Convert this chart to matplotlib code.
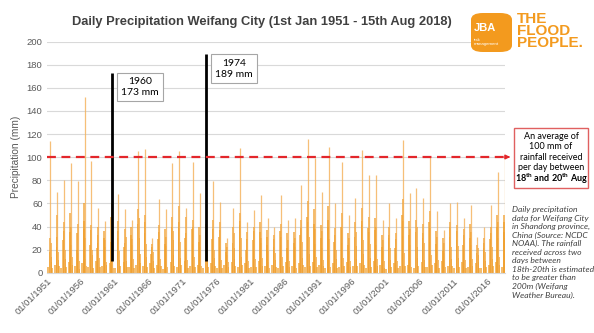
import numpy as np
import pandas as pd
import matplotlib
matplotlib.use("Agg")
import matplotlib.pyplot as plt
import matplotlib.dates as mdates
from matplotlib.patches import FancyBboxPatch, Rectangle

plt.rcParams["font.family"] = ["Liberation Sans", "DejaVu Sans"]
plt.rcParams["mathtext.fontset"] = "custom"
plt.rcParams["mathtext.bf"] = "Lato:bold"
plt.rcParams["mathtext.rm"] = "Lato"

years = list(range(1951, 2019))

# annual wettest day (day of year, mm)
peak_doy = [200, 195, 210, 205, 215, 220, 198, 206, 202, 214,
            199, 212, 207, 196, 203, 218, 190, 208, 201, 197,
            211, 216, 204, 209, 199, 206, 213, 202, 194, 210,
            200, 205, 212, 197, 203, 208, 215, 201, 196, 207,
            211, 217, 200, 204, 209, 198, 213, 206, 219, 202,
            197, 195, 208, 214, 193, 205, 210, 199, 203, 196,
            212, 207, 201, 204, 209, 215, 198, 222]
peak_mm = [114, 70, 80, 95, 79, 152, 97, 56, 45, 84,
           68, 55, 46, 105, 107, 30, 64, 55, 95, 105,
           56, 96, 69, 65, 79, 61, 30, 56, 108, 44,
           54, 67, 47, 40, 67, 46, 47, 76, 116, 99,
           70, 109, 60, 96, 50, 65, 106, 85, 85, 46,
           60, 47, 115, 69, 73, 65, 100, 53, 37, 60,
           61, 47, 59, 31, 40, 59, 87, 104]

# other rain days in each year (day of year, mm)
other_doy = [
    [60, 168, 186, 214, 230, 255, 296], [95, 172, 190, 205, 226, 248, 288],
    [40, 165, 182, 210, 233, 252, 305], [110, 170, 188, 208, 229, 246, 290],
    [70, 160, 195, 213, 224, 258, 300], [85, 175, 190, 206, 232, 250, 285],
    [50, 168, 180, 212, 228, 249, 310], [120, 166, 192, 207, 225, 256, 292],
    [75, 170, 183, 216, 234, 250, 298], [100, 162, 189, 210, 227, 246, 303],
    [45, 174, 186, 209, 222, 251, 287], [130, 167, 193, 214, 236, 254, 295],
    [65, 171, 184, 203, 231, 248, 301], [90, 163, 191, 211, 226, 257, 289],
    [55, 169, 187, 205, 230, 252, 306], [115, 165, 182, 213, 228, 249, 293],
    [80, 173, 194, 208, 235, 255, 299], [35, 166, 188, 212, 224, 247, 291],
    [105, 170, 181, 207, 229, 253, 304], [60, 164, 190, 215, 233, 250, 288],
    [125, 172, 185, 206, 221, 256, 297], [70, 168, 193, 210, 231, 249, 302],
    [95, 161, 180, 204, 226, 252, 290], [50, 175, 189, 214, 234, 258, 296],
    [110, 167, 184, 209, 225, 248, 307], [40, 170, 192, 212, 232, 254, 292],
    [85, 163, 187, 205, 228, 250, 300], [120, 174, 183, 211, 236, 257, 289],
    [65, 169, 190, 207, 223, 251, 303], [100, 165, 186, 213, 230, 249, 295],
    [55, 171, 194, 208, 227, 253, 298], [130, 167, 181, 210, 235, 256, 286],
    [75, 162, 189, 206, 224, 247, 305], [90, 173, 185, 215, 232, 252, 293],
    [45, 168, 192, 209, 229, 250, 301], [115, 166, 184, 204, 226, 254, 290],
    [70, 170, 188, 212, 233, 248, 297], [105, 164, 191, 207, 221, 257, 304],
    [60, 172, 183, 211, 230, 251, 288], [125, 169, 187, 205, 228, 249, 296],
    [80, 163, 194, 214, 234, 255, 302], [40, 175, 185, 208, 225, 252, 291],
    [95, 167, 190, 213, 231, 247, 299], [55, 171, 182, 209, 227, 256, 294],
    [110, 165, 188, 206, 236, 250, 287], [65, 168, 193, 212, 224, 253, 305],
    [100, 174, 186, 207, 229, 248, 292], [50, 162, 191, 210, 233, 254, 300],
    [120, 170, 184, 215, 226, 251, 289], [85, 166, 189, 204, 232, 257, 297],
    [35, 173, 183, 211, 228, 249, 303], [105, 167, 192, 208, 222, 252, 295],
    [70, 169, 186, 213, 234, 255, 290], [90, 164, 190, 206, 230, 247, 298],
    [45, 172, 181, 210, 227, 253, 306], [115, 168, 188, 214, 231, 250, 293],
    [60, 171, 194, 205, 225, 256, 288], [95, 163, 185, 212, 233, 249, 301],
    [130, 170, 187, 209, 224, 252, 296], [75, 166, 191, 207, 229, 254, 290],
    [50, 174, 183, 213, 235, 248, 304], [110, 165, 189, 206, 226, 251, 292],
    [65, 169, 192, 211, 232, 257, 299], [100, 172, 184, 208, 228, 250, 287],
    [40, 167, 190, 214, 223, 253, 302], [85, 164, 186, 209, 231, 249, 295],
    [120, 170, 183, 205, 227, 255, 291], [55, 160, 175, 190, 200, 210, 218],
]
other_mm = [
    [5, 18, 30, 26, 14, 9, 4], [7, 22, 50, 31, 18, 11, 6],
    [4, 28, 44, 36, 20, 12, 5], [9, 35, 52, 40, 24, 14, 7],
    [6, 20, 34, 42, 17, 10, 3], [8, 38, 60, 45, 30, 12, 6],
    [5, 24, 41, 37, 20, 15, 4], [10, 21, 33, 40, 26, 13, 5],
    [6, 30, 36, 28, 22, 9, 7], [8, 27, 48, 60, 35, 18, 4],
    [4, 36, 45, 30, 19, 11, 6], [9, 22, 38, 26, 31, 10, 5],
    [5, 33, 40, 29, 24, 12, 4], [7, 42, 55, 47, 30, 16, 8],
    [6, 34, 50, 44, 25, 14, 5], [8, 16, 25, 22, 18, 10, 4],
    [7, 29, 41, 35, 20, 12, 6], [3, 25, 38, 31, 23, 9, 5],
    [9, 40, 48, 36, 28, 15, 6], [5, 44, 58, 39, 27, 13, 7],
    [10, 30, 48, 34, 21, 11, 4], [6, 38, 46, 40, 25, 14, 5],
    [7, 27, 40, 33, 22, 10, 6], [4, 35, 42, 28, 24, 12, 5],
    [8, 29, 46, 38, 20, 13, 6], [4, 31, 37, 44, 22, 11, 4],
    [7, 18, 26, 22, 15, 9, 5], [9, 26, 40, 34, 21, 12, 6],
    [5, 45, 52, 41, 30, 14, 7], [8, 20, 35, 29, 18, 10, 4],
    [5, 28, 36, 40, 20, 12, 5], [10, 35, 44, 30, 26, 13, 6],
    [6, 24, 31, 37, 19, 9, 4], [7, 22, 29, 33, 17, 11, 5],
    [4, 36, 42, 31, 24, 14, 6], [9, 21, 34, 28, 20, 10, 5],
    [6, 26, 35, 30, 22, 12, 4], [8, 33, 46, 39, 27, 13, 7],
    [5, 48, 62, 44, 31, 16, 6], [9, 42, 55, 38, 25, 14, 5],
    [7, 30, 41, 36, 21, 11, 6], [4, 46, 58, 40, 29, 15, 5],
    [8, 27, 39, 33, 20, 12, 4], [5, 40, 52, 37, 26, 13, 6],
    [9, 24, 34, 30, 19, 10, 5], [6, 31, 44, 35, 23, 12, 6],
    [8, 45, 56, 41, 28, 16, 7], [4, 39, 48, 35, 25, 13, 5],
    [10, 37, 47, 40, 24, 12, 6], [7, 22, 33, 28, 19, 10, 4],
    [3, 30, 40, 33, 21, 11, 5], [8, 21, 34, 29, 17, 10, 4],
    [6, 50, 64, 45, 32, 17, 6], [7, 33, 45, 38, 24, 12, 5],
    [4, 35, 46, 40, 22, 13, 6], [9, 30, 42, 34, 26, 11, 5],
    [5, 44, 53, 39, 27, 15, 7], [8, 25, 36, 31, 20, 11, 4],
    [10, 19, 30, 26, 17, 10, 5], [6, 31, 40, 44, 22, 12, 6],
    [4, 28, 41, 36, 23, 13, 5], [9, 24, 33, 38, 20, 11, 4],
    [5, 30, 42, 35, 24, 12, 6], [8, 17, 24, 21, 15, 9, 4],
    [4, 21, 30, 26, 18, 10, 5], [7, 29, 40, 34, 22, 12, 6],
    [9, 40, 50, 44, 30, 14, 7], [5, 35, 44, 50, 30, 22, 12],
]

# highlighted events
event_dates = ["1960-08-12", "1974-07-16"]
event_mm = [173, 189]
event_labels = ["1960\n173 mm", "1974\n189 mm"]

start, end = pd.Timestamp("1951-01-01"), pd.Timestamp("2018-08-15")
tick_years = list(range(1951, 2017, 5))


def to_date(y, doy):
    return pd.Timestamp(year=y, month=1, day=1) + pd.Timedelta(days=doy - 1)


peak_dates = [to_date(y, d) for y, d in zip(years, peak_doy)]
other_dates, other_vals = [], []
for y, od, om in zip(years, other_doy, other_mm):
    for d, m in zip(od, om):
        other_dates.append(to_date(y, d))
        other_vals.append(m)

fig = plt.figure(figsize=(5.94, 3.33), dpi=100)
ax = fig.add_axes([0.0786, 0.181, 0.7716, 0.694])

ax.vlines(other_dates, 0, other_vals, color="#F0A02E", lw=1.4, alpha=0.7, zorder=2)
ax.vlines(peak_dates, 0, peak_mm, color="#F4B056", lw=0.9, alpha=0.8, zorder=2)
ax.vlines(pd.to_datetime(event_dates), 10, event_mm, color="black", lw=2, zorder=4)
ax.axhline(100, color="#E3262B", lw=1.6, ls=(0, (4, 2.5)), zorder=5)

ax.set_xlim(start, end)
ax.set_ylim(0, 200)
ax.set_yticks(range(0, 201, 20))
ax.set_xticks([pd.Timestamp(year=y, month=1, day=1) for y in tick_years])
ax.xaxis.set_major_formatter(mdates.DateFormatter("%d/%m/%Y"))
ax.grid(axis="y", color="#D9D9D9", lw=0.8, zorder=0)
ax.set_axisbelow(True)
for s in ["top", "right", "left"]:
    ax.spines[s].set_visible(False)
ax.spines["bottom"].set_color("#D9D9D9")
ax.tick_params(axis="both", length=0, labelsize=6.8, colors="#595959", pad=3)
plt.setp(ax.get_xticklabels(), rotation=45, ha="right", rotation_mode="anchor")
ax.set_ylabel("Precipitation (mm)", fontsize=7.3, color="#595959", labelpad=4)

fig.text(0.441, 0.934, "Daily Precipitation Weifang City (1st Jan 1951 - 15th Aug 2018)",
         ha="center", va="center", fontsize=9.3, fontweight="bold", color="#404040")

# event labels
box_font = ["Lato", "DejaVu Sans"]
for d, m, lab in zip(event_dates, event_mm, event_labels):
    ax.annotate(lab, xy=(pd.Timestamp(d), m), xytext=(20, -3), textcoords="offset points",
                ha="center", va="top", multialignment="center", fontsize=7.5,
                family=box_font, linespacing=1.3,
                bbox=dict(boxstyle="square,pad=0.4", fc="white", ec="#A6A6A6", lw=0.8),
                zorder=6)

# right-hand note
fig.patches.append(Rectangle((514 / 594, 1 - 188 / 333), 74 / 594, 60 / 333,
                             transform=fig.transFigure, fc="white", ec="#E06060", lw=1))
fig.text(551 / 594, 1 - 152 / 333, "An average of\n100 mm of\nrainfall received\nper day between",
         ha="center", va="center", fontsize=6.5, family=box_font, linespacing=1.2)
fig.text(551 / 594, 1 - 179 / 333, r"$\mathbf{18^{th}}$ $\mathbf{and}$ $\mathbf{20^{th}}$ $\mathbf{Aug}$",
         ha="center", va="center", fontsize=6.5, family=box_font)
ax.annotate("", xy=(513 / 594, 1 - 157 / 333), xycoords="figure fraction",
            xytext=(505 / 594, 1 - 157 / 333),
            arrowprops=dict(arrowstyle="-|>", color="#E3262B", lw=1.2, mutation_scale=6))
fig.text(512 / 594, 1 - 206 / 333,
         "Daily precipitation\ndata for Weifang City\nin Shandong province,\nChina (Source: NCDC\n"
         "NOAA). The rainfall\nreceived across two\ndays between\n18th-20th is estimated\n"
         "to be greater than\n200m (Weifang\nWeather Bureau).",
         ha="left", va="top", fontsize=6.1, style="italic", color="#404040",
         family=box_font, linespacing=1.25)

# logo
orange = "#F39A1E"
fig.patches.append(FancyBboxPatch((471 / 594, 1 - 52 / 333), 41 / 594, 39 / 333,
                                  boxstyle="round,pad=0,rounding_size=0.02",
                                  transform=fig.transFigure, fc=orange, ec="none"))
fig.text(474 / 594, 1 - 28 / 333, "JBA", color="white", fontsize=8, fontweight="bold",
         ha="left", va="center")
fig.text(474 / 594, 1 - 42 / 333, "risk\nmanagement", color="white", fontsize=3.2,
         ha="left", va="center", linespacing=1.0)
fig.text(517 / 594, 1 - 31 / 333, "THE\nFLOOD\nPEOPLE.", color=orange, fontsize=11,
         fontweight="bold", ha="left", va="center", linespacing=0.85)

fig.savefig("out.png", dpi=100)
